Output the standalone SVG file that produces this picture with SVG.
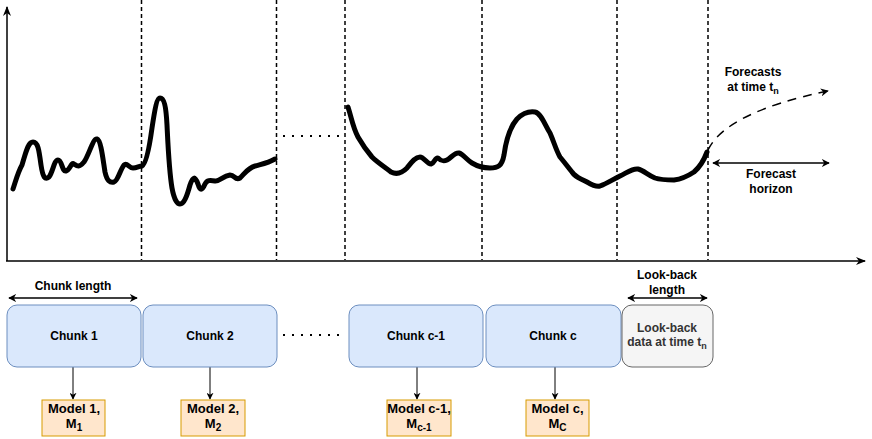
<svg xmlns="http://www.w3.org/2000/svg" width="872" height="439" viewBox="0 0 872 439">
<defs>
<marker id="ah" viewBox="0 0 10 10" refX="9" refY="5" markerWidth="8" markerHeight="8" markerUnits="userSpaceOnUse" orient="auto-start-reverse">
<path d="M0,0 L10,5 L0,10 L3,5 z" fill="#000"/>
</marker>
<marker id="ahs" viewBox="0 0 10 10" refX="9" refY="5" markerWidth="7" markerHeight="7" markerUnits="userSpaceOnUse" orient="auto">
<path d="M0,0 L10,5 L0,10 L3,5 z" fill="#000"/>
</marker>
<marker id="ahf" viewBox="0 0 10 10" refX="9" refY="5" markerWidth="10" markerHeight="10" markerUnits="userSpaceOnUse" orient="auto">
<path d="M0,1 L10,5 L0,9 L3,5 z" fill="#000"/>
</marker>
</defs>
<style>
text{font-family:"Liberation Sans",Arial,sans-serif;font-weight:bold;font-size:12px;fill:#000;text-anchor:middle}
.sub{font-size:9px}
.vd{stroke:#000;stroke-width:1.5;stroke-dasharray:4 3;fill:none}
.dot{stroke:#000;stroke-width:2;stroke-dasharray:2 7;fill:none}
.curve{stroke:#000;stroke-width:5;fill:none;stroke-linecap:round;stroke-linejoin:round}
.chunk{fill:#dae8fc;stroke:#6c8ebf;stroke-width:1}
.lb{fill:#f5f5f5;stroke:#666666;stroke-width:1}
.model{fill:#ffe6cc;stroke:#d79b00;stroke-width:1}
.mt{font-size:13px}
.conn{stroke:#000;stroke-width:1;fill:none}
</style>
<g id="axes">
<line x1="7" y1="261" x2="7" y2="7" stroke="#000" stroke-width="1.5" marker-end="url(#ahf)"/>
<line x1="6" y1="261" x2="865" y2="261" stroke="#000" stroke-width="1.5" marker-end="url(#ahf)"/>
</g>
<g id="dividers">
<line class="vd" x1="141.5" y1="0" x2="141.5" y2="260"/>
<line class="vd" x1="276.5" y1="0" x2="276.5" y2="260"/>
<line class="vd" x1="345" y1="0" x2="345" y2="260"/>
<line class="vd" x1="482" y1="0" x2="482" y2="260"/>
<line class="vd" x1="617" y1="0" x2="617" y2="260"/>
<line class="vd" x1="708" y1="0" x2="708" y2="260"/>
<line class="dot" x1="283" y1="136" x2="342" y2="136"/>
<line class="dot" x1="283" y1="335" x2="342" y2="335"/>
</g>
<g id="series">
<path class="curve" d="M13,189 C16,180 18,172 22,165 C26,152 28,142 33,142 C38,142 39,150 41,165 C43,178 45,180 49,177 C53,172 54,160 58,160 C62,160 62,172 66,171 C70,170 71,162 74,164 C77,166 79,168 84,162 C89,155 93,138 97,139 C101,140 103,160 105,172 C107,181 110,183 114,182 C118,181 120,170 124,165 C127,162 129,168 133,168 C137,168 139,166 142,166 C146,164 149,150 152,128 C155,108 157,98 160,98 C164,98 166,106 167,125 C168,145 169,170 172,188 C174,199 177,204 180,204 C184,204 187,196 190,185 C193,176 195,176 198,184 C200,191 202,191 205,184 C207,180 210,180 215,181 C219,182 223,176 230,175 C235,175 235,181 240,178 C245,173 248,168 255,166 C262,164 268,163 275,159"/>
<path class="curve" d="M348,107 C351,116 353,128 358,137 C362,144 366,150 372,157 C378,163 385,167 391,172 C397,175 402,173 407,168 C411,163 415,157 420,157 C424,157 427,164 431,164 C435,163 435,157 438,158 C441,161 443,162 447,160 C451,158 455,152 459,153 C463,154 467,160 472,163 C477,166 482,168 490,168 C498,168 502,166 504,155 C506,140 510,127 517,119 C523,113 528,111 535,112 C541,113 545,125 550,133 C554,142 556,150 560,157 C565,163 568,167 572,172 C576,178 580,178 587,182 C592,185 596,187 600,186 C606,184 612,180 620,176 C628,172 633,168 638,169 C643,170 648,175 655,178 C661,180 667,180 674,180 C682,179 688,176 694,172 C700,167 704,160 707,152"/>
</g>
<g id="connectors">
<path d="M708,150 C720,125 760,105 828,91" stroke="#000" stroke-width="1.5" fill="none" stroke-dasharray="9 7" marker-end="url(#ah)"/>
<line x1="713" y1="163" x2="829" y2="163" stroke="#000" stroke-width="1.5" marker-start="url(#ah)" marker-end="url(#ah)"/>
<line x1="9" y1="298" x2="137" y2="298" stroke="#000" stroke-width="1.5" marker-start="url(#ah)" marker-end="url(#ah)"/>
<line x1="628" y1="298" x2="707" y2="298" stroke="#000" stroke-width="1.5" marker-start="url(#ah)" marker-end="url(#ah)"/>
<line class="conn" x1="73" y1="367" x2="73" y2="399" marker-end="url(#ahs)"/>
<line class="conn" x1="210" y1="367" x2="210" y2="399" marker-end="url(#ahs)"/>
<line class="conn" x1="417" y1="367" x2="417" y2="399" marker-end="url(#ahs)"/>
<line class="conn" x1="555" y1="367" x2="555" y2="399" marker-end="url(#ahs)"/>
</g>
<g id="labels">
<text x="753" y="76">Forecasts</text>
<text x="753" y="91">at time t<tspan class="sub" dy="3">n</tspan></text>
<text x="771" y="178">Forecast</text>
<text x="771" y="193">horizon</text>
<text x="73" y="290">Chunk length</text>
<text x="667" y="279">Look-back</text>
<text x="667" y="294">length</text>
</g>
<g id="chunk1"><rect class="chunk" x="7" y="305" width="134" height="62" rx="10"/><text x="74" y="340">Chunk 1</text></g>
<g id="chunk2"><rect class="chunk" x="143" y="305" width="134" height="62" rx="10"/><text x="210" y="340">Chunk 2</text></g>
<g id="chunkc1"><rect class="chunk" x="349" y="305" width="134" height="62" rx="10"/><text x="416" y="340">Chunk c-1</text></g>
<g id="chunkc"><rect class="chunk" x="486" y="305" width="135" height="62" rx="10"/><text x="553" y="340">Chunk c</text></g>
<g id="lookback"><rect class="lb" x="622" y="305" width="91" height="62" rx="10"/><text x="667" y="332" style="fill:#333">Look-back</text><text x="667" y="346" style="fill:#333">data at time t<tspan class="sub" dy="3" style="fill:#333">n</tspan></text></g>
<g id="model1"><rect class="model" x="42" y="400" width="63" height="36"/><text class="mt" x="74" y="413">Model 1,</text><text class="mt" x="74" y="428">M<tspan style="font-size:10px" dy="3">1</tspan></text></g>
<g id="model2"><rect class="model" x="181" y="400" width="64" height="36"/><text class="mt" x="213" y="413">Model 2,</text><text class="mt" x="213" y="428">M<tspan style="font-size:10px" dy="3">2</tspan></text></g>
<g id="modelc1"><rect class="model" x="387" y="400" width="64" height="36"/><text class="mt" x="419" y="413">Model c-1,</text><text class="mt" x="419" y="428">M<tspan style="font-size:10px" dy="3">c-1</tspan></text></g>
<g id="modelc"><rect class="model" x="526" y="400" width="63" height="36"/><text class="mt" x="557.5" y="413">Model c,</text><text class="mt" x="557.5" y="428">M<tspan style="font-size:10px" dy="3">C</tspan></text></g>
</svg>
